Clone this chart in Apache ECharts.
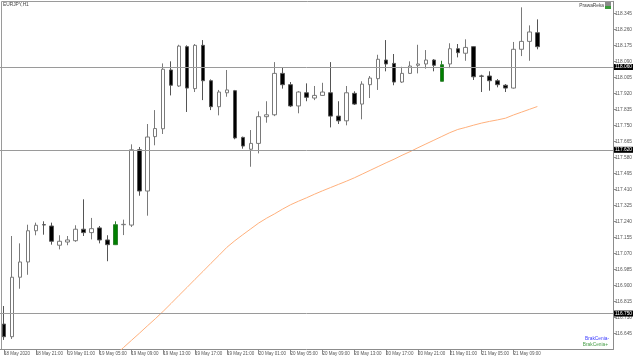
<!DOCTYPE html>
<html><head><meta charset="utf-8">
<script src="https://cdn.jsdelivr.net/npm/echarts@6/dist/echarts.min.js"></script>
<style>html,body{margin:0;padding:0;background:#fff}#c{width:640px;height:360px}</style>
</head><body><div id="c"></div>
<script>
const symbolTitle = 'EURJPY,H1';
const expertName = 'PrawaReka';
const legendMinus = 'BrakCenia-';
const legendPlus = 'BrakCenia+';
const firstLabel = '18 May 2020';
const firstDay = 18, firstHour = 17, slotCount = 77;

const opens  = [116.694,116.627,116.943,117.024,117.190,117.222,117.215,117.113,117.130,117.137,
                117.198,117.180,117.205,117.141,117.116,117.222,117.220,117.620,117.401,117.690,
                117.732,118.044,117.959,118.168,117.945,118.175,117.987,117.849,117.923,117.934,
                117.686,117.623,117.654,117.796,117.806,118.026,117.966,117.853,117.923,117.895,
                117.909,117.923,117.799,117.774,117.920,117.863,117.966,117.998,118.097,118.079,
                117.980,118.026,118.069,118.076,118.097,117.984,118.076,118.157,118.133,118.168,
                118.012,118.012,117.987,117.963,117.948,118.154,118.196,118.242];
const closes = [116.627,116.943,117.024,117.190,117.219,117.221,117.134,117.134,117.141,117.198,
                117.180,117.201,117.141,117.116,117.222,117.224,117.620,117.401,117.688,117.733,
                118.048,117.963,118.171,117.948,118.175,117.987,117.849,117.927,117.938,117.683,
                117.640,117.654,117.796,117.806,118.026,117.966,117.853,117.927,117.899,117.909,
                117.927,117.799,117.774,117.923,117.863,117.969,118.001,118.101,118.076,117.980,
                118.026,118.065,118.076,118.097,118.069,118.072,118.157,118.136,118.164,118.008,
                118.011,117.987,117.966,117.948,118.154,118.196,118.246,118.168];
const lows   = [116.610,116.615,116.882,116.956,117.166,117.169,117.116,117.091,117.113,117.131,
                117.162,117.144,117.123,117.028,117.114,117.167,117.210,117.376,117.270,117.644,
                117.704,117.909,117.954,117.821,117.927,117.884,117.831,117.803,117.902,117.676,
                117.626,117.530,117.601,117.764,117.799,117.945,117.847,117.814,117.878,117.884,
                117.906,117.739,117.757,117.750,117.858,117.782,117.895,117.938,118.037,117.963,
                117.975,118.023,118.026,118.051,118.037,117.984,118.054,118.111,118.093,117.991,
                117.927,117.934,117.952,117.927,117.945,118.118,118.093,118.154];
const highs  = [116.790,117.162,117.123,117.222,117.233,117.240,117.233,117.166,117.162,117.219,
                117.357,117.258,117.215,117.166,117.240,117.249,117.649,117.635,117.757,117.831,
                118.079,118.090,118.178,118.175,118.182,118.203,117.994,117.938,118.044,117.938,
                117.690,117.725,117.824,117.878,118.086,118.058,117.980,117.932,117.973,117.959,
                117.976,118.086,117.878,117.959,117.931,117.984,118.012,118.125,118.203,118.129,
                118.061,118.090,118.178,118.150,118.102,118.093,118.186,118.182,118.207,118.170,
                118.019,118.037,117.996,117.969,118.193,118.377,118.281,118.313];
const signalBars = [14, 55];

const movingAvg = [null,null,null,null,null,null,null,null,null,null,null,null,null,
  116.493,116.530,116.569,116.607,116.645,116.684,116.722,116.762,116.804,116.847,
  116.889,116.932,116.974,117.017,117.059,117.102,117.137,117.169,117.200,117.231,
  117.257,117.280,117.305,117.328,117.347,117.365,117.384,117.402,117.419,117.436,
  117.453,117.471,117.491,117.511,117.531,117.551,117.570,117.591,117.610,117.631,
  117.651,117.671,117.691,117.711,117.728,117.739,117.751,117.762,117.771,117.779,
  117.788,117.805,117.820,117.835,117.850];

const levels = [118.061, 117.623, 116.754];
const yTicks = [118.345,118.260,118.175,118.090,118.005,117.920,117.835,117.750,117.665,117.580,
                117.495,117.410,117.325,117.240,117.155,117.070,116.985,116.900,116.815,116.730,116.645];
const yMin = 116.559, yMax = 118.409;

const categories = [];
for (let i = 0; i < slotCount; i++) {
  const t = firstHour + i;
  const d = firstDay + Math.floor(t / 24);
  const h = t % 24;
  categories.push(d + ' May ' + String(h).padStart(2, '0') + ':00');
}

const candleData = opens.map((o, i) => {
  const item = { value: [o, closes[i], lows[i], highs[i]] };
  if (signalBars.indexOf(i) >= 0) {
    item.itemStyle = { color: '#008000', borderColor: '#2f7f2f' };
  }
  return item;
});

const barCount = opens.length;
const showTick = (i) => i % 4 === 0 && i < barCount;
const FONT = "'Liberation Sans',Arial,sans-serif";
const chart = echarts.init(document.getElementById('c'), null, { renderer: 'canvas' });
chart.setOption({
  animation: false,
  backgroundColor: '#ffffff',
  grid: { left: -1.3, right: 27, top: 1.3, bottom: 10.5, containLabel: false },
  xAxis: {
    type: 'category', data: categories, boundaryGap: true,
    axisLine: { show: true, lineStyle: { color: '#8c8c8c', width: 1 } },
    axisTick: { show: true, length: 5, alignWithLabel: true,
      interval: showTick, lineStyle: { color: '#8c8c8c' } },
    axisLabel: { show: true, interval: showTick, showMinLabel: true, hideOverlap: false,
      align: 'left', margin: 2, fontSize: 4.5, color: '#555', fontFamily: FONT,
      formatter: (v, i) => (i === 0 ? firstLabel : v) },
    splitLine: { show: false }
  },
  yAxis: {
    type: 'value', position: 'right', min: yMin, max: yMax, scale: true,
    axisLine: { show: true, lineStyle: { color: '#8c8c8c', width: 1 } },
    axisTick: { show: true, length: 3, customValues: yTicks, lineStyle: { color: '#8c8c8c' } },
    axisLabel: { show: true, customValues: yTicks, margin: 2, fontSize: 4.8, color: '#555',
      fontFamily: FONT, formatter: (v) => Number(v).toFixed(3) },
    splitLine: { show: false }
  },
  series: [
    {
      type: 'candlestick', data: candleData, barWidth: 4,
      itemStyle: { color: '#ffffff', color0: '#000000', borderColor: '#7a7a7a', borderColor0: '#555555', borderWidth: 1 },
      markLine: {
        silent: true, symbol: 'none', animation: false,
        lineStyle: { color: '#9a9a9a', type: 'solid', width: 1 },
        label: { show: true, position: 'end', distance: 1, formatter: (p) => Number(p.value).toFixed(3),
          backgroundColor: '#000', color: '#fff', fontSize: 4.8, fontFamily: FONT, padding: [1, 1, 0, 1] },
        data: levels.map(v => ({ yAxis: v }))
      }
    },
    {
      type: 'line', data: movingAvg, showSymbol: false, symbol: 'none', smooth: false,
      lineStyle: { color: '#ffb07c', width: 1 }, z: 1, clip: true
    }
  ],
  graphic: [
    { type: 'line', shape: { x1: 1.5, y1: 1.5, x2: 613, y2: 1.5 }, style: { stroke: '#9a9a9a', lineWidth: 1 }, silent: true },
    { type: 'line', shape: { x1: 1.5, y1: 1.5, x2: 1.5, y2: 349.5 }, style: { stroke: '#9a9a9a', lineWidth: 1 }, silent: true },
    { type: 'text', left: 3, top: 2.5, style: { text: symbolTitle, fontSize: 4.8, fill: '#444', fontFamily: FONT } },
    { type: 'text', right: 36, top: 3, style: { text: expertName, fontSize: 4.8, fill: '#444', fontFamily: FONT } },
    { type: 'rect', shape: { x: 605, y: 2, width: 6, height: 4 }, style: { fill: '#8a8a8a' } },
    { type: 'rect', shape: { x: 605, y: 6, width: 6, height: 3 }, style: { fill: '#3a9a3a' } },
    { type: 'text', right: 31, top: 336, style: { text: legendMinus, fontSize: 4.8, fill: '#3c3cff', fontFamily: FONT } },
    { type: 'text', right: 32, top: 342, style: { text: legendPlus, fontSize: 4.8, fill: '#4aa04a', fontFamily: FONT } }
  ]
});
</script></body></html>
